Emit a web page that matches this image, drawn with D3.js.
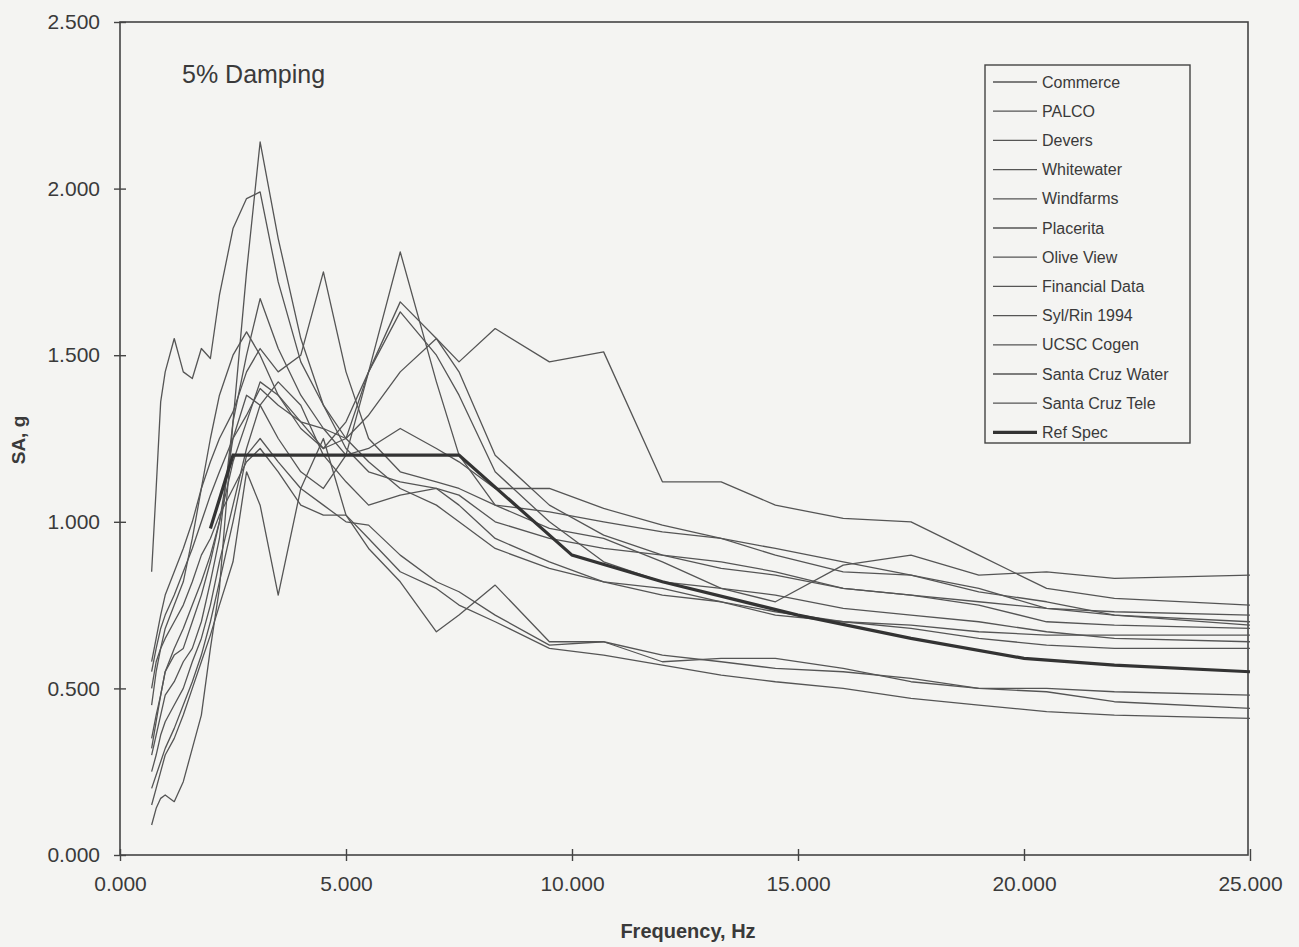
<html>
<head>
<title>SA 5% Damping</title>
<script src="https://cdn.jsdelivr.net/npm/d3@7"></script>
<style>
  body { margin: 0; background: #f4f4f2; }
  svg text { font-family: "Liberation Sans", Arial, sans-serif; fill: #3a3a3a; }
</style>
</head>
<body>
<svg width="1299" height="947"></svg>
<script>

// frequency grid (Hz) shared by the recorded spectra
var freq = [0.7, 0.8, 0.9, 1.0, 1.2, 1.4, 1.6, 1.8, 2.0, 2.2, 2.5, 2.8, 3.1, 3.5, 4.0, 4.5, 5.0,
            5.5, 6.2, 7.0, 7.5, 8.3, 9.5, 10.7, 12.0, 13.3, 14.5, 16.0, 17.5, 19.0, 20.5, 22.0, 25.0];

var commerce    = [0.32,0.40,0.48,0.55,0.62,0.68,0.75,0.82,0.90,1.00,1.18,1.30,1.42,1.38,1.30,1.22,1.25,1.32,1.45,1.55,1.48,1.58,1.48,1.51,1.12,1.12,1.05,1.01,1.00,0.90,0.80,0.77,0.75];
var palco       = [0.09,0.14,0.17,0.18,0.16,0.22,0.32,0.42,0.62,0.80,1.30,1.75,2.14,1.85,1.55,1.35,1.22,1.15,1.12,1.10,1.08,1.00,0.95,0.92,0.90,0.86,0.84,0.80,0.78,0.76,0.74,0.73,0.72];
var devers      = [0.85,1.10,1.36,1.45,1.55,1.45,1.43,1.52,1.49,1.68,1.88,1.97,1.99,1.72,1.48,1.35,1.25,1.18,1.10,1.05,1.00,0.92,0.86,0.82,0.78,0.76,0.73,0.70,0.69,0.67,0.66,0.66,0.66];
var whitewater  = [0.55,0.62,0.68,0.72,0.78,0.85,0.92,1.00,1.08,1.15,1.25,1.32,1.40,1.35,1.30,1.28,1.25,1.45,1.81,1.42,1.20,1.05,0.98,0.95,0.88,0.80,0.76,0.87,0.90,0.84,0.85,0.83,0.84];
var windfarms   = [0.58,0.65,0.72,0.78,0.85,0.92,1.00,1.10,1.18,1.25,1.33,1.45,1.52,1.45,1.50,1.75,1.45,1.25,1.15,1.12,1.10,1.05,1.03,1.00,0.97,0.95,0.90,0.85,0.84,0.80,0.74,0.72,0.69];
var placerita   = [0.35,0.42,0.48,0.55,0.60,0.62,0.70,0.78,0.88,1.00,1.25,1.38,1.35,1.25,1.15,1.10,1.20,1.45,1.66,1.55,1.45,1.20,1.05,0.96,0.90,0.88,0.85,0.80,0.78,0.75,0.70,0.69,0.68];
var oliveView   = [0.45,0.55,0.62,0.68,0.75,0.82,0.95,1.10,1.25,1.38,1.50,1.57,1.50,1.38,1.28,1.22,1.30,1.45,1.63,1.50,1.38,1.15,1.00,0.88,0.82,0.80,0.78,0.74,0.72,0.70,0.67,0.65,0.64];
var financial   = [0.30,0.36,0.42,0.48,0.52,0.58,0.62,0.70,0.82,0.95,1.30,1.50,1.67,1.52,1.38,1.28,1.20,1.22,1.28,1.22,1.18,1.10,1.10,1.04,0.99,0.95,0.92,0.88,0.84,0.79,0.76,0.72,0.70];
var sylRin      = [0.25,0.30,0.36,0.40,0.45,0.50,0.58,0.65,0.75,0.88,1.05,1.22,1.35,1.42,1.35,1.20,1.12,1.05,1.08,1.10,1.05,0.95,0.88,0.82,0.80,0.76,0.72,0.70,0.68,0.65,0.63,0.62,0.62];
var ucscCogen   = [0.50,0.58,0.62,0.65,0.70,0.75,0.82,0.90,0.95,1.02,1.10,1.18,1.22,1.15,1.05,1.02,1.02,0.92,0.82,0.67,0.72,0.81,0.64,0.64,0.60,0.58,0.56,0.55,0.53,0.50,0.50,0.49,0.48];
var scWater     = [0.20,0.24,0.28,0.32,0.38,0.45,0.52,0.60,0.70,0.82,1.00,1.20,1.25,1.18,1.10,1.05,1.00,0.99,0.90,0.82,0.79,0.72,0.63,0.64,0.58,0.59,0.59,0.56,0.52,0.50,0.49,0.46,0.44];
var scTele      = [0.15,0.20,0.25,0.30,0.35,0.42,0.50,0.58,0.66,0.75,0.88,1.15,1.05,0.78,1.10,1.25,1.02,0.95,0.85,0.80,0.75,0.70,0.62,0.60,0.57,0.54,0.52,0.50,0.47,0.45,0.43,0.42,0.41];

// reference spectrum
var refFreq = [2.0, 2.5, 7.5, 10.0, 12.0, 15.0, 17.5, 20.0, 22.0, 25.0];
var refSA   = [0.98, 1.20, 1.20, 0.90, 0.82, 0.72, 0.65, 0.59, 0.57, 0.55];

var seriesNames = ["Commerce", "PALCO", "Devers", "Whitewater", "Windfarms", "Placerita", "Olive View",
                   "Financial Data", "Syl/Rin 1994", "UCSC Cogen", "Santa Cruz Water", "Santa Cruz Tele"];
var seriesValues = [commerce, palco, devers, whitewater, windfarms, placerita, oliveView,
                    financial, sylRin, ucscCogen, scWater, scTele];

var xTicks = [0, 5, 10, 15, 20, 25];
var yTicks = [0, 0.5, 1.0, 1.5, 2.0, 2.5];

var svg = d3.select("svg");

var x = d3.scaleLinear().domain([0, 25]).range([120, 1250]);
var y = d3.scaleLinear().domain([0, 2.5]).range([855, 22]);

// plot frame
svg.append("rect")
    .attr("x", 120).attr("y", 22)
    .attr("width", 1128).attr("height", 833)
    .attr("fill", "none")
    .attr("stroke", "#444")
    .attr("stroke-width", 1.6);

var fmt = d3.format(".3f");

var yAxis = svg.append("g")
    .attr("transform", "translate(120,0)")
    .call(d3.axisLeft(y).tickValues(yTicks).tickFormat(fmt).tickSize(6).tickPadding(14));
yAxis.select(".domain").remove();
yAxis.selectAll(".tick line").attr("x1", 6).attr("stroke", "#444").attr("stroke-width", 1.4);
yAxis.selectAll(".tick text").attr("font-size", 21).attr("fill", "#3a3a3a");

var xAxis = svg.append("g")
    .attr("transform", "translate(0,855)")
    .call(d3.axisBottom(x).tickValues(xTicks).tickFormat(fmt).tickSize(6).tickPadding(15));
xAxis.select(".domain").remove();
xAxis.selectAll(".tick line").attr("y1", -6).attr("stroke", "#444").attr("stroke-width", 1.4);
xAxis.selectAll(".tick text").attr("font-size", 21).attr("fill", "#3a3a3a");

// axis titles
svg.append("text")
    .attr("x", 688).attr("y", 938)
    .attr("text-anchor", "middle")
    .attr("font-size", 20).attr("font-weight", "bold")
    .text("Frequency, Hz");

svg.append("text")
    .attr("transform", "translate(25,440) rotate(-90)")
    .attr("text-anchor", "middle")
    .attr("font-size", 19).attr("font-weight", "bold")
    .text("SA, g");

svg.append("text")
    .attr("x", 182).attr("y", 83)
    .attr("font-size", 25)
    .text("5% Damping");

var line = d3.line()
    .x(function(d) { return x(d[0]); })
    .y(function(d) { return y(d[1]); });

var g = svg.append("g");

seriesValues.forEach(function(vals) {
  g.append("path")
      .datum(freq.map(function(f, i) { return [f, vals[i]]; }))
      .attr("fill", "none")
      .attr("stroke", "#555")
      .attr("stroke-width", 1.3)
      .attr("stroke-linejoin", "round")
      .attr("d", line);
});

g.append("path")
    .datum(refFreq.map(function(f, i) { return [f, refSA[i]]; }))
    .attr("fill", "none")
    .attr("stroke", "#333")
    .attr("stroke-width", 3.2)
    .attr("d", line);

// legend
var legend = svg.append("g").attr("transform", "translate(985,65)");
legend.append("rect")
    .attr("width", 205).attr("height", 378)
    .attr("fill", "#f4f4f2")
    .attr("stroke", "#444").attr("stroke-width", 1.4);

var legendNames = seriesNames.concat(["Ref  Spec"]);
legendNames.forEach(function(name, i) {
  var ly = 17 + i * 29.2;
  var isRef = i === legendNames.length - 1;
  legend.append("line")
      .attr("x1", 8).attr("x2", 52)
      .attr("y1", ly).attr("y2", ly)
      .attr("stroke", isRef ? "#333" : "#555")
      .attr("stroke-width", isRef ? 3.2 : 1.3);
  legend.append("text")
      .attr("x", 57).attr("y", ly)
      .attr("dy", "0.35em")
      .attr("font-size", 16)
      .text(name);
});

</script>
</body>
</html>
